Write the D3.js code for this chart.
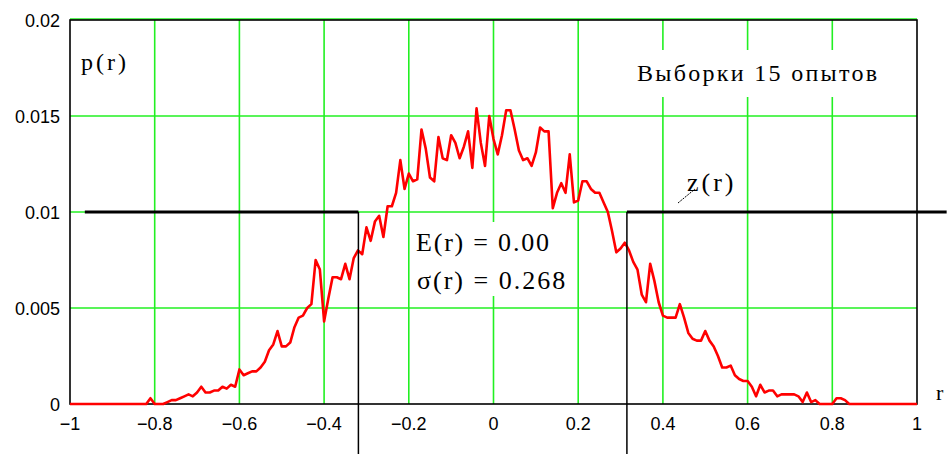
<!DOCTYPE html>
<meta charset="utf-8">
<style>
body { margin: 0; background: #fff; }
.tick-label { font: 18px "Liberation Sans", Arial, sans-serif; fill: #000; }
.serif { font-family: "Liberation Serif", "Times New Roman", serif; fill: #000; }
.grid line { stroke: #22f022; stroke-width: 1.6px; }
.curve { fill: none; stroke: #ff0000; stroke-width: 2.6px; stroke-linejoin: round; }
</style>
<svg width="947" height="454"></svg>
<script src="https://cdn.jsdelivr.net/npm/d3@7"></script>
<script>

// histogram values p(r), one per bin of width 0.01, from r = -1 to r = 1
var pValues = [
  0, 0, 0, 0, 0, 0, 0, 0, 0, 0,
  0, 0, 0, 0, 0, 0, 0, 0, 0, 0.0003,
  0, 0, 0, 0.0001, 0.0002, 0.0002, 0.0003, 0.0004, 0.0005, 0.0004,
  0.0006, 0.0009, 0.0006, 0.0006, 0.0007, 0.0007, 0.0009, 0.0008, 0.001, 0.0009,
  0.0018, 0.0015, 0.0016, 0.0017, 0.0017, 0.0019, 0.0022, 0.0028, 0.0031, 0.0038,
  0.003, 0.003, 0.0032, 0.004, 0.0045, 0.0046, 0.005, 0.0052, 0.0075, 0.007,
  0.0043, 0.0055, 0.0066, 0.0066, 0.0065, 0.0073, 0.0065, 0.0076, 0.008, 0.0078,
  0.0092, 0.0085, 0.0095, 0.0098, 0.0087, 0.0103, 0.0103, 0.011, 0.0127, 0.0112,
  0.012, 0.0116, 0.0117, 0.0143, 0.0133, 0.0118, 0.0116, 0.0139, 0.0128, 0.0127,
  0.014, 0.0136, 0.0128, 0.0134, 0.0142, 0.0123, 0.0154, 0.0136, 0.0124, 0.015,
  0.0138, 0.013, 0.014, 0.0153, 0.0153, 0.0143, 0.0132, 0.0127, 0.0128, 0.0124,
  0.0131, 0.0144, 0.0142, 0.0142, 0.0102, 0.011, 0.0115, 0.011, 0.013, 0.0105,
  0.0106, 0.0116, 0.0116, 0.0112, 0.011, 0.011, 0.0105, 0.01, 0.009, 0.0079,
  0.0081, 0.0084, 0.008, 0.0074, 0.007, 0.0057, 0.0053, 0.0073, 0.0064, 0.0053,
  0.0046, 0.0045, 0.0045, 0.0045, 0.0052, 0.0045, 0.0037, 0.0034, 0.0033, 0.0033,
  0.0038, 0.0033, 0.003, 0.0025, 0.0019, 0.0019, 0.002, 0.0015, 0.0013, 0.0012,
  0.0012, 0.0009, 0.0004, 0.001, 0.0006, 0.0007, 0.0007, 0.0004, 0.0005, 0.0005,
  0.0005, 0.0005, 0.0004, 0.0001, 0.0006, 0.0001, 0.0002, 0, 0, 0,
  0, 0.0003, 0.0003, 0.0002, 0, 0, 0, 0, 0, 0,
  0, 0, 0, 0, 0, 0, 0, 0, 0, 0,
  0
];
var binWidth = 0.01;

// z(r) trace: level and where its pieces start/stop
var zLevel = 0.01;
var zSegments = [[-0.965, -0.319], [0.315, 1.07]];
var sigmaMarks = [-0.319, 0.315];

var xTicks = [-1, -0.8, -0.6, -0.4, -0.2, 0, 0.2, 0.4, 0.6, 0.8, 1];
var yTicks = [0, 0.005, 0.01, 0.015, 0.02];
var yTickLabels = ["0", "0.005", "0.01", "0.015", "0.02"];

var svg = d3.select("svg"),
    W = +svg.attr("width"), H = +svg.attr("height"),
    margin = {top: 20, right: 30, bottom: 50, left: 70},
    width = W - margin.left - margin.right,
    height = H - margin.top - margin.bottom;

var x = d3.scaleLinear().domain([-1, 1]).range([margin.left, margin.left + width]),
    y = d3.scaleLinear().domain([0, 0.02]).range([margin.top + height, margin.top]);

// grid
var grid = svg.append("g").attr("class", "grid");
grid.selectAll(".gv").data(xTicks.slice(1, -1)).enter().append("line")
    .attr("x1", function(d) { return x(d); }).attr("x2", function(d) { return x(d); })
    .attr("y1", y(0)).attr("y2", y(0.02));
grid.selectAll(".gh").data(yTicks.slice(1)).enter().append("line")
    .attr("x1", x(-1)).attr("x2", x(1))
    .attr("y1", function(d) { return y(d) - (d === 0.02 ? 1 : 0); })
    .attr("y2", function(d) { return y(d) - (d === 0.02 ? 1 : 0); });

// white boxes behind the annotations
svg.append("rect").attr("x", 630).attr("y", 50).attr("width", 262).attr("height", 47).attr("fill", "#fff");
svg.append("rect").attr("x", 412).attr("y", 222).attr("width", 160).attr("height", 74).attr("fill", "#fff");

// frame
svg.append("rect")
    .attr("x", x(-1)).attr("y", y(0.02))
    .attr("width", x(1) - x(-1)).attr("height", y(0) - y(0.02))
    .attr("fill", "none").attr("stroke", "#000").attr("stroke-width", 1.6);

// p(r) curve
var line = d3.line()
    .x(function(d, i) { return x(-1 + i * binWidth); })
    .y(function(d) { return y(d); });

svg.append("path").datum(pValues).attr("class", "curve").attr("d", line);

// sigma markers and z(r)
svg.selectAll(".sig").data(sigmaMarks).enter().append("line")
    .attr("x1", function(d) { return x(d); }).attr("x2", function(d) { return x(d); })
    .attr("y1", y(zLevel)).attr("y2", H)
    .attr("stroke", "#000").attr("stroke-width", 1.5);

svg.selectAll(".zseg").data(zSegments).enter().append("line")
    .attr("x1", function(d) { return x(d[0]); }).attr("x2", function(d) { return x(d[1]); })
    .attr("y1", y(zLevel)).attr("y2", y(zLevel))
    .attr("stroke", "#000").attr("stroke-width", 3);

// tick labels
svg.selectAll(".xl").data(xTicks).enter().append("text")
    .attr("class", "tick-label")
    .attr("x", function(d) { return x(d); })
    .attr("y", y(0) + 26)
    .attr("text-anchor", "middle")
    .text(function(d) { return d3.format("")(d).replace("-", "\u2212"); });

svg.selectAll(".yl").data(yTicks).enter().append("text")
    .attr("class", "tick-label")
    .attr("x", x(-1) - 10)
    .attr("y", function(d) { return y(d) + 7; })
    .attr("text-anchor", "end")
    .text(function(d, i) { return yTickLabels[i]; });

// labels
svg.append("text").attr("class", "serif").attr("x", 81).attr("y", 70)
    .style("font-size", "24px").style("letter-spacing", "3px").text("p(r)");
svg.append("text").attr("class", "serif").attr("x", 936).attr("y", 400)
    .style("font-size", "22px").text("r");
svg.append("text").attr("class", "serif").attr("x", 637).attr("y", 81)
    .style("font-size", "24px").style("letter-spacing", "2.3px").text("Выборки 15 опытов");
svg.append("text").attr("class", "serif").attr("x", 416).attr("y", 251)
    .style("font-size", "26px").style("letter-spacing", "1.8px").text("E(r) = 0.00");
svg.append("text").attr("class", "serif").attr("x", 417).attr("y", 289)
    .style("font-size", "26px").style("letter-spacing", "2px").text("σ(r) = 0.268");
svg.append("text").attr("class", "serif").attr("x", 687).attr("y", 191)
    .style("font-size", "26px").style("letter-spacing", "3px").text("z(r)");
svg.append("line")
    .attr("x1", 678).attr("y1", 203).attr("x2", 695).attr("y2", 189)
    .attr("stroke", "#000").attr("stroke-width", 1).attr("stroke-dasharray", "2,1");

</script>
